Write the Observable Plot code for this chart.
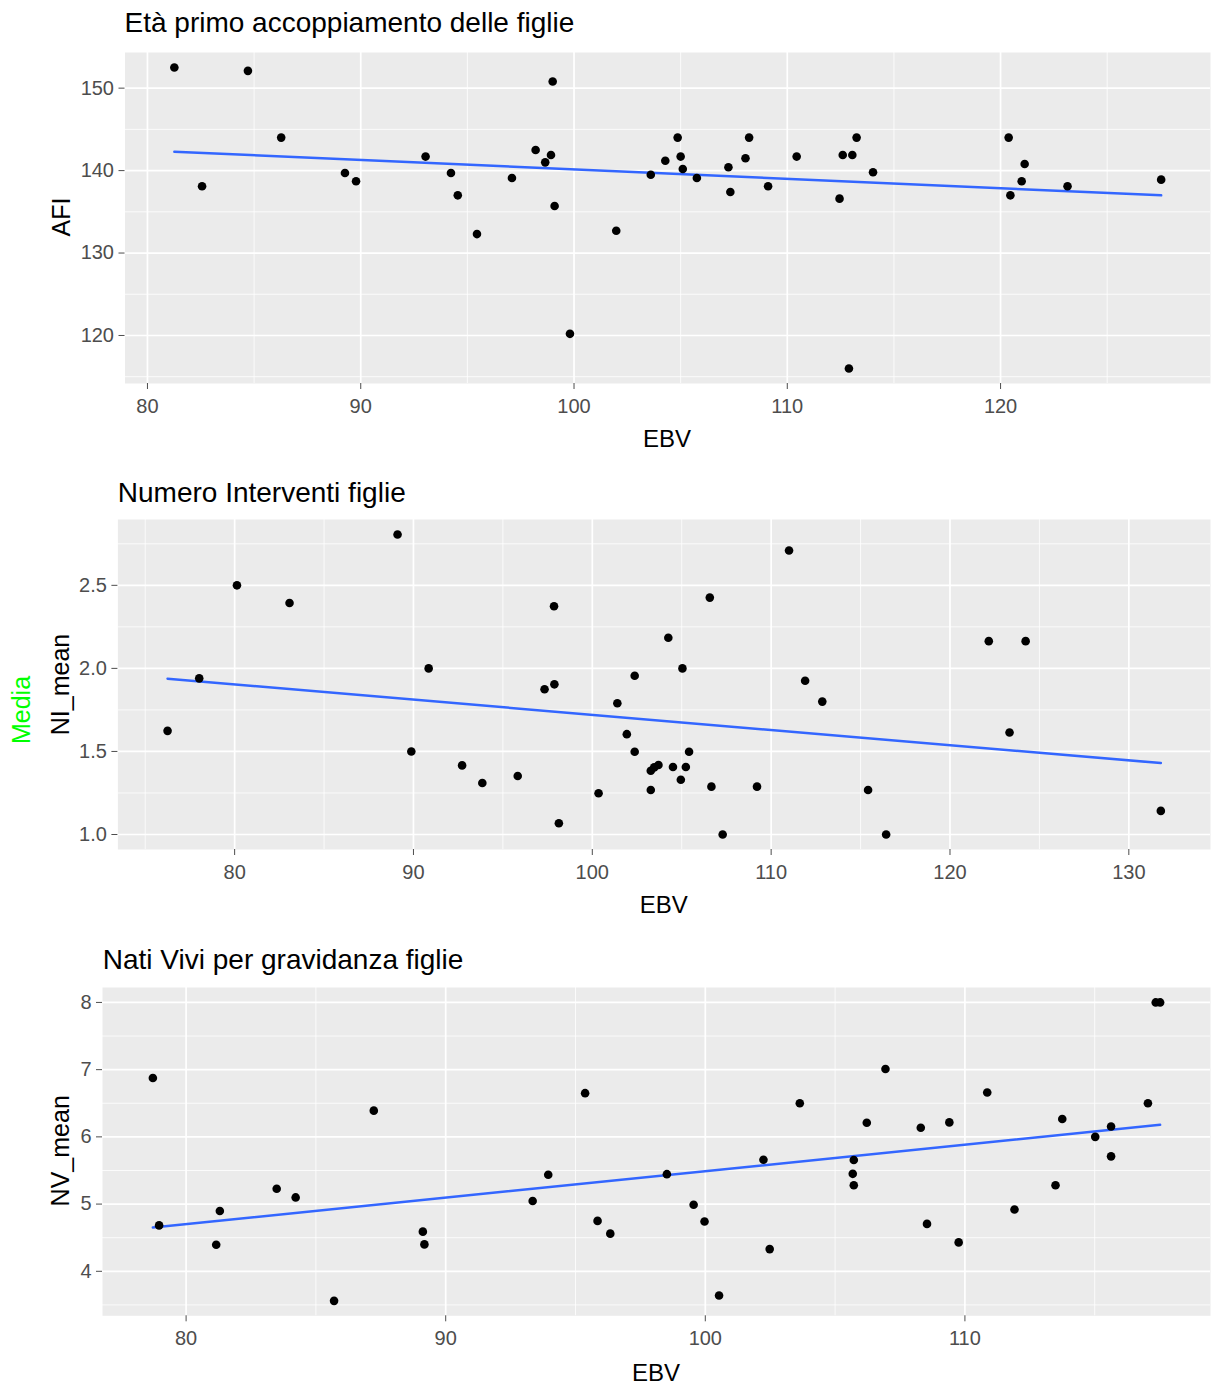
<!DOCTYPE html>
<html>
<head>
<meta charset="utf-8">
<script src="https://cdn.jsdelivr.net/npm/d3@7"></script>
<script src="https://cdn.jsdelivr.net/npm/@observablehq/plot@0.6"></script>
<style>
  html, body { margin: 0; padding: 0; background: #fff; }
  #root { position: relative; width: 1213px; height: 1387px; background: #fff; overflow: hidden; }
  #root > svg.panel { position: absolute; left: 0; }
  #overlay { position: absolute; left: 0; top: 0; pointer-events: none; }
</style>
</head>
<body>
<div id="root"></div>
<script>
// ---------- Panel 1: Età primo accoppiamento delle figlie (AFI) ----------
const afiEbv = [81.26, 82.56, 84.71, 86.27, 89.26, 89.78, 93.04, 94.23, 94.55, 95.45,
  97.09, 98.2, 98.65, 98.92, 99.0, 99.09, 99.81, 101.98, 103.6, 104.28,
  104.86, 105.0, 105.1, 105.76, 107.24, 107.33, 108.04, 108.21, 109.1, 110.44,
  112.45, 112.6, 113.05, 112.89, 113.25, 114.02, 120.38, 120.46, 120.99, 121.13,
  123.14, 127.53];
const afiValues = [152.5, 138.1, 152.1, 144.0, 139.7, 138.7, 141.7, 139.7, 137.0, 132.3,
  139.1, 142.5, 141.0, 141.9, 150.8, 135.7, 120.2, 132.7, 139.5, 141.2,
  144.0, 141.7, 140.2, 139.1, 140.4, 137.4, 141.5, 144.0, 138.1, 141.7,
  136.6, 141.9, 141.9, 116.0, 144.0, 139.8, 144.0, 137.0, 138.7, 140.8,
  138.1, 138.9];
const afiXTicks = [80, 90, 100, 110, 120];
const afiXMinor = [85, 95, 105, 115, 125];
const afiYTicks = [120, 130, 140, 150];
const afiYMinor = [115, 125, 135, 145];

// ---------- Panel 2: Numero Interventi figlie (NI_mean) ----------
const niEbv = [76.25, 78.02, 80.13, 83.07, 89.11, 89.88, 90.85, 92.72, 93.85, 95.83,
  97.33, 97.86, 97.88, 98.13, 100.35, 101.4, 101.93, 102.37, 102.37, 103.27,
  103.46, 103.7, 103.27, 104.25, 104.51, 104.95, 105.04, 105.23, 105.41, 106.57,
  106.66, 107.29, 109.21, 111.0, 111.9, 112.86, 115.42, 116.43, 122.17, 124.23,
  123.33, 131.79];
const niValues = [1.624, 1.94, 2.5, 2.394, 2.806, 1.5, 2.0, 1.416, 1.31, 1.352,
  1.874, 2.374, 1.904, 1.068, 1.248, 1.79, 1.604, 1.956, 1.498, 1.384,
  1.404, 1.418, 1.268, 2.184, 1.406, 1.33, 2.0, 1.406, 1.498, 2.426,
  1.288, 1.0, 1.288, 2.71, 1.926, 1.8, 1.268, 1.0, 2.164, 2.164,
  1.614, 1.142];
const niXTicks = [80, 90, 100, 110, 120, 130];
const niXMinor = [75, 85, 95, 105, 115, 125];
const niYTicks = [1.0, 1.5, 2.0, 2.5];
const niYMinor = [1.25, 1.75, 2.25, 2.75];

// ---------- Panel 3: Nati Vivi per gravidanza figlie (NV_mean) ----------
const nvEbv = [78.72, 78.96, 81.16, 81.3, 83.49, 84.22, 85.7, 87.23, 89.12, 89.18,
  93.35, 93.95, 95.37, 95.85, 96.34, 98.52, 99.55, 99.97, 100.53, 102.24,
  102.48, 103.64, 105.68, 105.72, 105.72, 106.22, 106.94, 108.3, 108.54, 109.4,
  109.76, 110.86, 111.91, 113.49, 113.75, 115.02, 115.63, 115.63, 117.05, 117.35,
  117.52];
const nvValues = [6.876, 4.683, 4.396, 4.896, 5.228, 5.099, 3.56, 6.39, 4.59, 4.40,
  5.045, 5.436, 6.65, 4.75, 4.56, 5.445, 4.99, 4.74, 3.64, 5.66,
  4.33, 6.5, 5.45, 5.655, 5.28, 6.21, 7.01, 6.135, 4.705, 6.215,
  4.43, 6.66, 4.92, 5.28, 6.265, 6.0, 6.155, 5.71, 6.5, 8.0,
  8.0];
const nvXTicks = [80, 90, 100, 110];
const nvXMinor = [85, 95, 105, 115];
const nvYTicks = [4, 5, 6, 7, 8];
const nvYMinor = [3.5, 4.5, 5.5, 6.5, 7.5];

const titles = ["Età primo accoppiamento delle figlie", "Numero Interventi figlie", "Nati Vivi per gravidanza figlie"];
const yLabels = ["AFI", "NI_mean", "NV_mean"];
const xLabel = "EBV";
const extraLabel = "Media";

const FONT = "'Liberation Sans', Arial, sans-serif";
const root = document.getElementById("root");

function expand(vals) {
  const [a, b] = d3.extent(vals);
  const d = (b - a) * 0.05;
  return [a - d, b + d];
}

function drawPanel(cfg) {
  const data = cfg.xs.map((x, i) => ({x, y: cfg.ys[i]}));
  const mt = 6, mb = 48;
  const panelH = cfg.bottom - cfg.top;
  const chart = Plot.plot({
    width: 1213,
    height: mt + panelH + mb,
    marginLeft: cfg.left,
    marginRight: 1213 - 1210,
    marginTop: mt,
    marginBottom: mb,
    style: {background: "transparent", fontFamily: FONT, overflow: "visible"},
    x: {domain: expand(cfg.xs)},
    y: {domain: expand(cfg.ys)},
    marks: [
      Plot.frame({fill: "#EBEBEB", stroke: "none"}),
      Plot.ruleX(cfg.xMinor, {stroke: "#ffffff", strokeWidth: 0.8}),
      Plot.ruleY(cfg.yMinor, {stroke: "#ffffff", strokeWidth: 0.8}),
      Plot.ruleX(cfg.xTicks, {stroke: "#ffffff", strokeWidth: 1.7}),
      Plot.ruleY(cfg.yTicks, {stroke: "#ffffff", strokeWidth: 1.7}),
      Plot.axisX({ticks: cfg.xTicks, tickSize: 6, tickPadding: 9, fontSize: 20, color: "#4D4D4D", label: null, tickFormat: d3.format("d")}),
      Plot.axisY({ticks: cfg.yTicks, tickSize: 6, tickPadding: 5, fontSize: 20, color: "#4D4D4D", label: null, tickFormat: cfg.yFormat}),
      Plot.linearRegressionY(data, {x: "x", y: "y", stroke: "#3366FF", strokeWidth: 2.5, ci: 0}),
      Plot.dot(data, {x: "x", y: "y", r: 4.3, fill: "#000000", stroke: "none"})
    ]
  });
  chart.classList.add("panel");
  chart.style.top = (cfg.top - mt) + "px";
  root.appendChild(chart);
}

drawPanel({xs: afiEbv, ys: afiValues, xTicks: afiXTicks, xMinor: afiXMinor, yTicks: afiYTicks, yMinor: afiYMinor,
  left: 124.5, top: 51.7, bottom: 382.7, yFormat: d3.format("d")});
drawPanel({xs: niEbv, ys: niValues, xTicks: niXTicks, xMinor: niXMinor, yTicks: niYTicks, yMinor: niYMinor,
  left: 117.4, top: 519.3, bottom: 849.3, yFormat: d3.format(".1f")});
drawPanel({xs: nvEbv, ys: nvValues, xTicks: nvXTicks, xMinor: nvXMinor, yTicks: nvYTicks, yMinor: nvYMinor,
  left: 102, top: 986.7, bottom: 1315, yFormat: d3.format("d")});

// ---------- Text overlay (titles and axis titles) ----------
const overlay = d3.select(root).append("svg")
  .attr("id", "overlay").attr("width", 1213).attr("height", 1387)
  .style("font-family", FONT);

const titlePos = [[124.5, 32.3], [117.8, 501.7], [102.8, 969.3]];
titles.forEach((t, i) => {
  overlay.append("text").attr("x", titlePos[i][0]).attr("y", titlePos[i][1])
    .attr("font-size", 28).attr("fill", "#000").text(t);
});

const ebvPos = [[667, 446.7], [663.7, 913], [656, 1380.7]];
ebvPos.forEach(([x, y]) => {
  overlay.append("text").attr("x", x).attr("y", y).attr("text-anchor", "middle")
    .attr("font-size", 24).attr("fill", "#000").text(xLabel);
});

const yLabPos = [[70, 217], [69, 684.5], [69, 1150.8]];
yLabels.forEach((t, i) => {
  const [x, y] = yLabPos[i];
  overlay.append("text").attr("transform", `translate(${x},${y}) rotate(-90)`)
    .attr("text-anchor", "middle").attr("font-size", 25).attr("fill", "#000").text(t);
});

overlay.append("text").attr("transform", "translate(30,710) rotate(-90)")
  .attr("text-anchor", "middle").attr("font-size", 25).attr("fill", "#00FF00").text(extraLabel);
</script>
</body>
</html>
